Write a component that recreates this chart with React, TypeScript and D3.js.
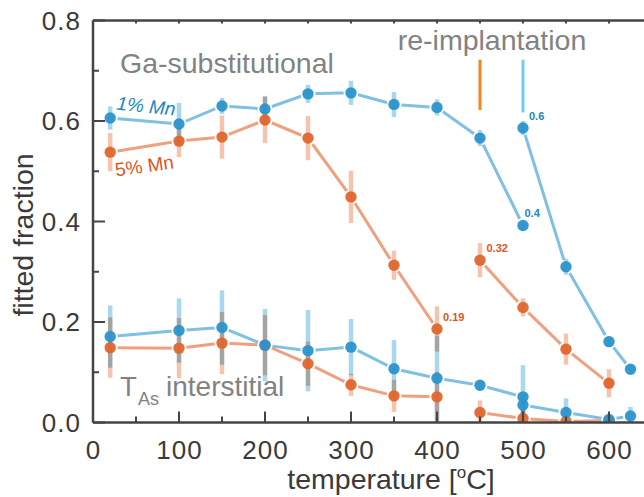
import React from "react";
import * as d3 from "d3";

// temperatures [°C]
const tempsFirst = [20, 100, 150, 200, 250, 300, 350, 400, 450, 500];
const tempsOrangeFirst = [20, 100, 150, 200, 250, 300, 350, 400];
const tempsBlueSecond = [500, 550, 600, 625];
const tempsOrangeSecond = [450, 500, 550, 600];

// Ga-substitutional fraction
const gaBlue1 = [0.606, 0.594, 0.63, 0.624, 0.654, 0.656, 0.633, 0.627, 0.566, 0.392];
const gaBlue1Err = [0.023, 0.042, 0.016, 0.026, 0.018, 0.024, 0.025, 0.016, 0.016, 0.008];
const gaBlue2 = [0.586, 0.31, 0.161, 0.106];
const gaBlue2Err = [0.014, 0.016, 0.01, 0.008];
const gaOrange1 = [0.538, 0.56, 0.568, 0.602, 0.566, 0.449, 0.313, 0.186];
const gaOrange1Err = [0.038, 0.032, 0.043, 0.046, 0.044, 0.052, 0.029, 0.045];
const gaOrange2 = [0.323, 0.229, 0.146, 0.078];
const gaOrange2Err = [0.034, 0.018, 0.031, 0.028];

// T_As interstitial fraction
const asBlue1 = [0.171, 0.183, 0.189, 0.154, 0.143, 0.15, 0.107, 0.088, 0.074, 0.051];
const asBlue1Err = [0.062, 0.064, 0.074, 0.072, 0.081, 0.056, 0.057, 0.085, 0.01, 0.063];
const asBlue2 = [0.035, 0.02, 0.006, 0.013];
const asBlue2Err = [0.02, 0.028, 0.01, 0.018];
const asOrange1 = [0.149, 0.148, 0.158, 0.154, 0.117, 0.075, 0.053, 0.051];
const asOrange1Err = [0.06, 0.06, 0.062, 0.06, 0.044, 0.022, 0.032, 0.05];
const asOrange2 = [0.02, 0.008, 0.002, 0.004];
const asOrange2Err = [0.024, 0.02, 0.005, 0.005];

const xTickLabels = [0, 100, 200, 300, 400, 500, 600];
const yTickLabels = [0, 0.2, 0.4, 0.6, 0.8];

// value annotations near selected points
const valueNotes = [
  { t: 500, v: 0.586, text: "0.6", kind: "blue", dx: 6 },
  { t: 500, v: 0.392, text: "0.4", kind: "blue", dx: 1.5 },
  { t: 450, v: 0.323, text: "0.32", kind: "orange", dx: 6.5 },
  { t: 400, v: 0.186, text: "0.19", kind: "orange", dx: 6 },
];

const colors = {
  blue: { line: "#7fc0e3", mark: "#2b93cc", bar: "#a9d7ef", text: "#1a86c4" },
  orange: { line: "#f0a07e", mark: "#e0662e", bar: "#f6c4ae", text: "#dc561c" },
};

const series = [
  { t: tempsFirst, v: gaBlue1, e: gaBlue1Err, kind: "blue" },
  { t: tempsBlueSecond, v: gaBlue2, e: gaBlue2Err, kind: "blue" },
  { t: tempsOrangeFirst, v: gaOrange1, e: gaOrange1Err, kind: "orange" },
  { t: tempsOrangeSecond, v: gaOrange2, e: gaOrange2Err, kind: "orange" },
  { t: tempsOrangeFirst, v: asOrange1, e: asOrange1Err, kind: "orange" },
  { t: tempsOrangeSecond, v: asOrange2, e: asOrange2Err, kind: "orange" },
  { t: tempsFirst, v: asBlue1, e: asBlue1Err, kind: "blue" },
  { t: tempsBlueSecond, v: asBlue2, e: asBlue2Err, kind: "blue" },
];

const width = 644;
const height = 497;
const font = "'Liberation Sans', Arial, sans-serif";
const gray = "#828282";
const axisColor = "#454545";

export default function App() {
  const x = d3.scaleLinear().domain([0, 650]).range([93, 652]);
  const y = d3.scaleLinear().domain([0, 0.8]).range([422.5, 20.5]);

  const points = series.map((s) =>
    s.t.map((t, i) => ({ t, v: s.v[i], e: s.e[i], kind: s.kind }))
  );
  const allPoints = points.flat();

  const line = d3
    .line<{ t: number; v: number }>()
    .x((d) => x(d.t))
    .y((d) => y(d.v));

  const [x0, x1] = x.range();
  const [yb, yt] = y.range();

  const xMinor = d3.range(0, 651, 50);
  const yMinor = d3.range(0, 0.81, 0.1);

  return (
    <svg
      width={width}
      height={height}
      style={{ position: "absolute", left: 0, top: 0, background: "#fff" }}
      fontFamily={font}
    >
      <defs>
        <clipPath id="plot">
          <rect x={x0} y={yt} width={x1 - x0} height={yb - yt} />
        </clipPath>
      </defs>

      <g clipPath="url(#plot)">
        {points.map((p, i) => (
          <path
            key={"l" + i}
            d={line(p) || ""}
            fill="none"
            stroke={colors[p[0].kind].line}
            strokeWidth={3}
          />
        ))}
        {allPoints.map((d, i) => (
          <circle key={"h" + i} cx={x(d.t)} cy={y(d.v)} r={7.5} fill="#fff" />
        ))}
        {allPoints.map((d, i) => (
          <line
            key={"e" + i}
            x1={x(d.t)}
            x2={x(d.t)}
            y1={y(d.v - d.e)}
            y2={y(d.v + d.e)}
            stroke={colors[d.kind].bar}
            strokeWidth={4.5}
            style={{ mixBlendMode: "multiply" }}
          />
        ))}
        {allPoints.map((d, i) => (
          <circle
            key={"m" + i}
            cx={x(d.t)}
            cy={y(d.v)}
            r={5.7}
            fill={colors[d.kind].mark}
            fillOpacity={0.95}
          />
        ))}
      </g>

      {/* re-implantation markers */}
      <line x1={x(450)} x2={x(450)} y1={y(0.722)} y2={y(0.622)} stroke="#f7841e" strokeWidth={3} />
      <line x1={x(500)} x2={x(500)} y1={y(0.722)} y2={y(0.617)} stroke="#72cdf4" strokeWidth={3} />

      {valueNotes.map((n, i) => (
        <text
          key={"n" + i}
          x={x(n.t) + n.dx}
          y={y(n.v) - 8.5}
          fontSize={11}
          fontWeight="bold"
          fill={colors[n.kind].text}
        >
          {n.text}
        </text>
      ))}

      {/* annotations */}
      <text x={120} y={73} fontSize={28.5} fill={gray}>
        Ga-substitutional
      </text>
      <text x={492} y={50} fontSize={28.5} fill={gray} textAnchor="middle">
        re-implantation
      </text>
      <text x={120} y={395.5} fontSize={27.5} fill={gray}>
        T
        <tspan x={138} fontSize={18} dy={9}>As</tspan>
      </text>
      <text x={166} y={395.5} fontSize={28} fill={gray}>
        interstitial
      </text>
      <text
        transform="translate(116,109.5) rotate(6)"
        fontSize={19}
        fontStyle="italic"
        fill={colors.blue.text}
      >
        1% Mn
      </text>
      <text
        transform="translate(116,176.5) rotate(-8)"
        fontSize={19}
        fill={colors.orange.text}
      >
        5% Mn
      </text>

      {/* frame */}
      <g stroke={axisColor} strokeWidth={2.5} fill="none">
        <line x1={x0} x2={x1} y1={yb} y2={yb} />
        <line x1={x0} x2={x1} y1={yt} y2={yt} />
        <line x1={x0} x2={x0} y1={yt} y2={yb} />
      </g>
      <g stroke={axisColor} strokeWidth={2}>
        {xMinor.map((t) => (
          <line key={"xb" + t} x1={x(t)} x2={x(t)} y1={yb} y2={yb - (t % 100 === 0 ? 11 : 6)} />
        ))}
        {xMinor.map((t) => (
          <line key={"xt" + t} x1={x(t)} x2={x(t)} y1={yt} y2={yt + 3} />
        ))}
        {yMinor.map((v, i) => (
          <line key={"y" + i} x1={x0} x2={x0 + (i % 2 === 0 ? 12 : 6)} y1={y(v)} y2={y(v)} />
        ))}
      </g>

      {/* tick labels */}
      {yTickLabels.map((v) => (
        <text
          key={"yl" + v}
          x={81}
          y={y(v) + 9.3}
          fontSize={26}
          letterSpacing={1}
          textAnchor="end"
          fill="#3a3a3a"
        >
          {d3.format(".1f")(v)}
        </text>
      ))}
      {xTickLabels.map((t) => (
        <text
          key={"xl" + t}
          x={x(t) + 0.5}
          y={459}
          fontSize={26}
          letterSpacing={1}
          textAnchor="middle"
          fill="#3a3a3a"
        >
          {t}
        </text>
      ))}

      {/* axis titles */}
      <text
        transform="translate(33,235) rotate(-90)"
        fontSize={28.5}
        textAnchor="middle"
        fill="#3a3a3a"
      >
        fitted fraction
      </text>
      <text x={391} y={489} fontSize={28.5} textAnchor="middle" fill="#3a3a3a">
        temperature [<tspan fontSize={17} dy={-11}>o</tspan>
        <tspan dy={11}>C]</tspan>
      </text>
    </svg>
  );
}
